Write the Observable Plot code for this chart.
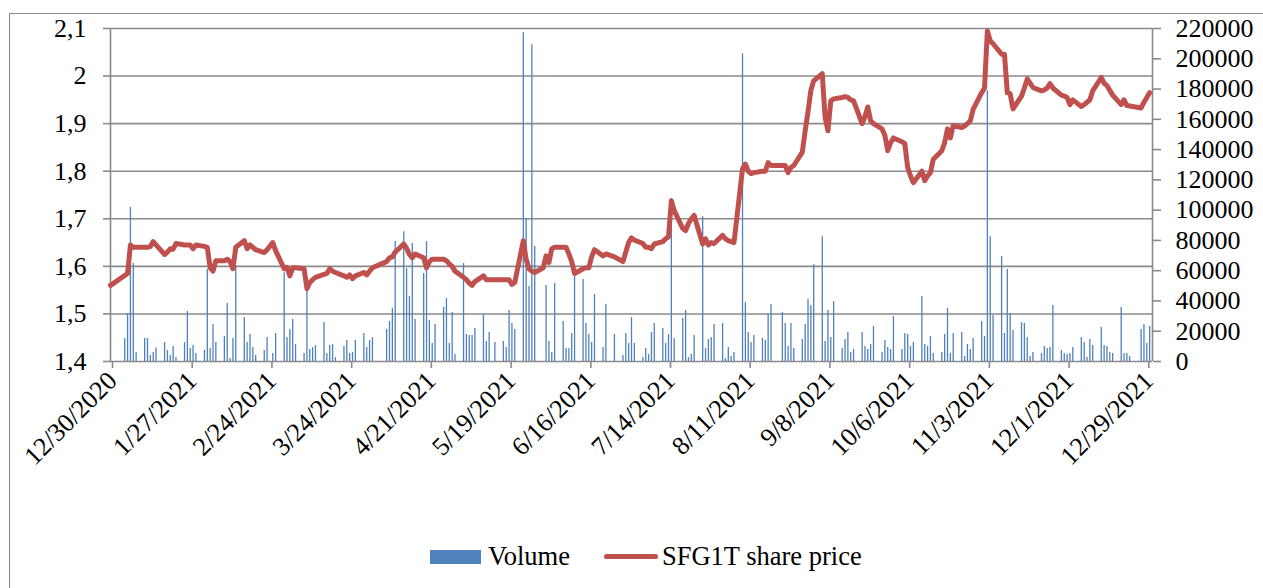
<!DOCTYPE html>
<html>
<head>
<meta charset="utf-8">
<script src="https://cdn.jsdelivr.net/npm/d3@7"></script>
<script src="https://cdn.jsdelivr.net/npm/@observablehq/plot@0.6"></script>
<style>
  html, body { margin: 0; padding: 0; background: #fff; }
  body { width: 1263px; height: 588px; overflow: hidden; position: relative; font-family: "Liberation Serif", "Times New Roman", serif; }
  #frame { position: absolute; left: 9px; top: 13px; width: 1400px; height: 700px; border-left: 1.5px solid #8a8a8a; border-top: 1.5px solid #8a8a8a; }
  #chart { position: absolute; left: 0; top: 0; }
  #legend { position: absolute; left: 430px; top: 541px; display: flex; align-items: center; font-size: 26.5px; color: #000; white-space: nowrap; }
  .sw-bar { width: 51px; height: 14px; background: #4F81BD; margin-right: 7px; }
  .sw-line { width: 54px; height: 5px; border-radius: 3px; background: #C0504D; margin-left: 34px; margin-right: 4px; }
</style>
</head>
<body>
<div id="frame"></div>
<div id="chart"></div>
<div id="legend"><span class="sw-bar"></span><span>Volume</span><span class="sw-line"></span><span>SFG1T share price</span></div>
<script>
const priceDates = ["2020-12-30","2021-01-05","2021-01-06","2021-01-07","2021-01-08","2021-01-11","2021-01-12","2021-01-13","2021-01-14","2021-01-15","2021-01-18","2021-01-19","2021-01-20","2021-01-21","2021-01-22","2021-01-25","2021-01-26","2021-01-27","2021-01-28","2021-01-29","2021-02-01","2021-02-02","2021-02-03","2021-02-04","2021-02-05","2021-02-08","2021-02-09","2021-02-10","2021-02-11","2021-02-12","2021-02-15","2021-02-16","2021-02-17","2021-02-18","2021-02-19","2021-02-22","2021-02-23","2021-02-25","2021-02-26","2021-03-01","2021-03-02","2021-03-03","2021-03-04","2021-03-05","2021-03-08","2021-03-09","2021-03-10","2021-03-11","2021-03-12","2021-03-15","2021-03-16","2021-03-17","2021-03-18","2021-03-19","2021-03-22","2021-03-23","2021-03-24","2021-03-25","2021-03-26","2021-03-29","2021-03-30","2021-03-31","2021-04-01","2021-04-06","2021-04-07","2021-04-08","2021-04-09","2021-04-12","2021-04-13","2021-04-14","2021-04-15","2021-04-16","2021-04-19","2021-04-20","2021-04-21","2021-04-22","2021-04-23","2021-04-26","2021-04-27","2021-04-28","2021-04-29","2021-04-30","2021-05-03","2021-05-04","2021-05-05","2021-05-06","2021-05-07","2021-05-10","2021-05-11","2021-05-12","2021-05-14","2021-05-17","2021-05-18","2021-05-19","2021-05-20","2021-05-21","2021-05-24","2021-05-25","2021-05-26","2021-05-27","2021-05-28","2021-05-31","2021-06-01","2021-06-02","2021-06-03","2021-06-04","2021-06-07","2021-06-08","2021-06-09","2021-06-10","2021-06-11","2021-06-14","2021-06-15","2021-06-16","2021-06-17","2021-06-18","2021-06-21","2021-06-22","2021-06-25","2021-06-28","2021-06-29","2021-06-30","2021-07-01","2021-07-02","2021-07-05","2021-07-06","2021-07-07","2021-07-08","2021-07-09","2021-07-12","2021-07-13","2021-07-14","2021-07-15","2021-07-16","2021-07-19","2021-07-20","2021-07-21","2021-07-22","2021-07-23","2021-07-26","2021-07-27","2021-07-28","2021-07-29","2021-07-30","2021-08-02","2021-08-03","2021-08-04","2021-08-05","2021-08-06","2021-08-09","2021-08-10","2021-08-11","2021-08-12","2021-08-13","2021-08-16","2021-08-17","2021-08-18","2021-08-19","2021-08-23","2021-08-24","2021-08-25","2021-08-26","2021-08-27","2021-08-30","2021-08-31","2021-09-01","2021-09-02","2021-09-03","2021-09-06","2021-09-07","2021-09-08","2021-09-09","2021-09-10","2021-09-13","2021-09-14","2021-09-15","2021-09-16","2021-09-17","2021-09-20","2021-09-21","2021-09-22","2021-09-23","2021-09-24","2021-09-27","2021-09-28","2021-09-29","2021-09-30","2021-10-01","2021-10-04","2021-10-05","2021-10-06","2021-10-07","2021-10-08","2021-10-11","2021-10-12","2021-10-13","2021-10-14","2021-10-15","2021-10-18","2021-10-19","2021-10-20","2021-10-21","2021-10-22","2021-10-25","2021-10-26","2021-10-27","2021-10-28","2021-10-29","2021-11-01","2021-11-02","2021-11-03","2021-11-04","2021-11-05","2021-11-08","2021-11-09","2021-11-10","2021-11-11","2021-11-12","2021-11-15","2021-11-16","2021-11-17","2021-11-18","2021-11-19","2021-11-22","2021-11-23","2021-11-24","2021-11-25","2021-11-26","2021-11-29","2021-11-30","2021-12-01","2021-12-02","2021-12-03","2021-12-06","2021-12-07","2021-12-08","2021-12-09","2021-12-10","2021-12-13","2021-12-14","2021-12-15","2021-12-16","2021-12-17","2021-12-20","2021-12-21","2021-12-22","2021-12-23","2021-12-27","2021-12-28","2021-12-29","2021-12-30"];
const priceValues = [1.560,1.585,1.645,1.640,1.640,1.640,1.640,1.642,1.652,1.645,1.625,1.630,1.637,1.636,1.648,1.645,1.645,1.645,1.637,1.645,1.642,1.640,1.597,1.590,1.612,1.612,1.615,1.610,1.595,1.640,1.654,1.637,1.645,1.640,1.635,1.629,1.635,1.650,1.633,1.595,1.598,1.580,1.597,1.597,1.595,1.553,1.566,1.572,1.577,1.583,1.585,1.595,1.590,1.587,1.580,1.577,1.582,1.574,1.580,1.587,1.582,1.590,1.597,1.610,1.618,1.620,1.630,1.647,1.638,1.625,1.618,1.626,1.618,1.597,1.610,1.615,1.615,1.615,1.612,1.605,1.600,1.590,1.577,1.572,1.565,1.560,1.568,1.580,1.572,1.572,1.572,1.572,1.572,1.572,1.562,1.566,1.654,1.615,1.595,1.590,1.587,1.597,1.622,1.608,1.637,1.640,1.640,1.640,1.626,1.610,1.585,1.595,1.597,1.597,1.620,1.635,1.622,1.626,1.620,1.610,1.630,1.650,1.660,1.655,1.648,1.640,1.640,1.637,1.647,1.652,1.658,1.662,1.738,1.717,1.680,1.675,1.690,1.700,1.707,1.647,1.658,1.645,1.650,1.648,1.665,1.658,1.654,1.652,1.650,1.805,1.815,1.800,1.795,1.797,1.800,1.800,1.818,1.812,1.812,1.812,1.797,1.808,1.812,1.840,1.885,1.925,1.970,1.990,2.005,1.913,1.885,1.948,1.952,1.955,1.957,1.955,1.950,1.948,1.900,1.915,1.935,1.906,1.900,1.889,1.875,1.843,1.860,1.870,1.862,1.858,1.808,1.790,1.776,1.800,1.780,1.790,1.797,1.825,1.843,1.860,1.889,1.870,1.896,1.892,1.895,1.900,1.906,1.930,1.965,1.975,2.095,2.074,2.068,2.046,2.046,1.965,1.963,1.931,1.958,1.975,1.994,1.985,1.976,1.969,1.971,1.975,1.984,1.975,1.960,1.958,1.955,1.940,1.950,1.936,1.940,1.945,1.950,1.969,1.997,1.985,1.980,1.970,1.960,1.940,1.950,1.938,1.937,1.933,1.945,1.955,1.965];

const volumeDates = ["2021-01-04","2021-01-05","2021-01-06","2021-01-07","2021-01-08","2021-01-11","2021-01-12","2021-01-13","2021-01-14","2021-01-15","2021-01-18","2021-01-19","2021-01-20","2021-01-21","2021-01-22","2021-01-25","2021-01-26","2021-01-27","2021-01-28","2021-01-29","2021-02-01","2021-02-02","2021-02-03","2021-02-04","2021-02-05","2021-02-08","2021-02-09","2021-02-10","2021-02-11","2021-02-12","2021-02-15","2021-02-16","2021-02-17","2021-02-18","2021-02-19","2021-02-22","2021-02-23","2021-02-25","2021-02-26","2021-03-01","2021-03-02","2021-03-03","2021-03-04","2021-03-05","2021-03-08","2021-03-09","2021-03-10","2021-03-11","2021-03-12","2021-03-15","2021-03-16","2021-03-17","2021-03-18","2021-03-19","2021-03-22","2021-03-23","2021-03-24","2021-03-25","2021-03-26","2021-03-29","2021-03-30","2021-03-31","2021-04-01","2021-04-06","2021-04-07","2021-04-08","2021-04-09","2021-04-12","2021-04-13","2021-04-14","2021-04-15","2021-04-16","2021-04-19","2021-04-20","2021-04-21","2021-04-22","2021-04-23","2021-04-26","2021-04-27","2021-04-28","2021-04-29","2021-04-30","2021-05-03","2021-05-04","2021-05-05","2021-05-06","2021-05-07","2021-05-10","2021-05-11","2021-05-12","2021-05-14","2021-05-17","2021-05-18","2021-05-19","2021-05-20","2021-05-21","2021-05-24","2021-05-25","2021-05-26","2021-05-27","2021-05-28","2021-06-01","2021-06-02","2021-06-03","2021-06-04","2021-06-07","2021-06-08","2021-06-09","2021-06-10","2021-06-11","2021-06-14","2021-06-15","2021-06-16","2021-06-17","2021-06-18","2021-06-21","2021-06-22","2021-06-25","2021-06-28","2021-06-29","2021-06-30","2021-07-01","2021-07-02","2021-07-05","2021-07-06","2021-07-07","2021-07-08","2021-07-09","2021-07-12","2021-07-13","2021-07-14","2021-07-15","2021-07-16","2021-07-19","2021-07-20","2021-07-21","2021-07-22","2021-07-23","2021-07-26","2021-07-27","2021-07-28","2021-07-29","2021-07-30","2021-08-02","2021-08-03","2021-08-04","2021-08-05","2021-08-06","2021-08-09","2021-08-10","2021-08-11","2021-08-12","2021-08-13","2021-08-16","2021-08-17","2021-08-18","2021-08-19","2021-08-23","2021-08-24","2021-08-25","2021-08-26","2021-08-27","2021-08-30","2021-08-31","2021-09-01","2021-09-02","2021-09-03","2021-09-06","2021-09-07","2021-09-08","2021-09-09","2021-09-10","2021-09-13","2021-09-14","2021-09-15","2021-09-16","2021-09-17","2021-09-20","2021-09-21","2021-09-22","2021-09-23","2021-09-24","2021-09-27","2021-09-28","2021-09-29","2021-09-30","2021-10-01","2021-10-04","2021-10-05","2021-10-06","2021-10-07","2021-10-08","2021-10-11","2021-10-12","2021-10-13","2021-10-14","2021-10-15","2021-10-18","2021-10-19","2021-10-20","2021-10-21","2021-10-22","2021-10-25","2021-10-26","2021-10-27","2021-10-28","2021-10-29","2021-11-01","2021-11-02","2021-11-03","2021-11-04","2021-11-05","2021-11-08","2021-11-09","2021-11-10","2021-11-11","2021-11-12","2021-11-15","2021-11-16","2021-11-17","2021-11-18","2021-11-19","2021-11-22","2021-11-23","2021-11-24","2021-11-25","2021-11-26","2021-11-29","2021-11-30","2021-12-01","2021-12-02","2021-12-03","2021-12-06","2021-12-07","2021-12-08","2021-12-09","2021-12-10","2021-12-13","2021-12-14","2021-12-15","2021-12-16","2021-12-17","2021-12-20","2021-12-21","2021-12-22","2021-12-23","2021-12-27","2021-12-28","2021-12-29","2021-12-30"];
const volumeValues = [15200,31700,101700,64700,6000,15200,15200,4000,6000,9000,12500,7300,4000,9900,2600,12500,33000,8600,10500,5300,7300,60700,8600,24400,12500,16500,38300,2000,15200,63400,29000,12500,17800,9200,4000,7300,15800,5300,18500,58700,15800,21100,27700,11200,5300,48800,7900,9200,10500,25700,5300,10500,11200,2600,9900,13900,5300,6000,13900,18500,9200,13900,15800,21100,26400,35000,79200,85800,61400,42900,77900,27700,58100,79200,27100,11900,24400,35700,41600,11900,32300,4600,64700,17800,17200,17200,21800,30400,13200,19100,12500,13200,9200,33700,25100,21100,217200,94400,49500,209200,75900,50200,13200,6000,51500,26400,8600,8600,18500,56100,54100,25100,17800,12500,44200,9200,37600,17800,4000,18500,11900,29000,11900,2600,8600,4600,19100,25100,21800,11900,17800,107600,15200,28400,33700,2600,4600,17200,95700,8600,14500,15800,24400,25100,2000,9200,3300,6000,203300,38900,19100,12500,17200,15200,13900,31000,37600,32300,25100,9900,25100,8600,14500,24400,40900,37000,64000,82500,13200,33700,15800,39600,8600,14500,19100,6000,7900,19100,9900,7900,11200,23100,6000,13900,9200,7900,29700,7900,18500,17800,9900,12500,42900,11200,9900,16500,5300,6000,17800,35000,5300,18500,19100,3300,11200,7900,15200,26400,16500,178900,82500,30400,69300,18500,60700,31700,20500,25700,25100,15800,3300,6000,5300,9900,8600,9200,37000,7300,5300,4600,5300,9200,15800,12500,2600,14500,10500,22400,10500,9900,6000,5300,35700,5300,5300,3300,21100,24400,11900,23100];

const priceTicks = [1.4, 1.5, 1.6, 1.7, 1.8, 1.9, 2.0, 2.1];
const volumeTicks = [0, 20000, 40000, 60000, 80000, 100000, 120000, 140000, 160000, 180000, 200000, 220000];
const dateTicks = ["2020-12-30","2021-01-27","2021-02-24","2021-03-24","2021-04-21","2021-05-19","2021-06-16","2021-07-14","2021-08-11","2021-09-08","2021-10-06","2021-11-03","2021-12-01","2021-12-29"];

const parse = s => new Date(s + "T00:00:00Z");
const prices = priceDates.map((d, i) => ({date: parse(d), price: priceValues[i]}));
const volumes = volumeDates.map((d, i) => ({date: parse(d), volume: volumeValues[i]}));

const yLo = 1.4, yHi = 2.1, vMax = 220000;
const volToY = v => yLo + v / vMax * (yHi - yLo);
const x0 = parse("2020-12-30"), x1 = parse("2021-12-31");
const grid = "#8a8a8a";
const fmtDate = d3.utcFormat("%-m/%-d/%Y");

const chart = Plot.plot({
  width: 1263,
  height: 520,
  marginLeft: 110,
  marginRight: 111,
  marginTop: 28,
  marginBottom: 159,
  style: {fontFamily: "'Liberation Serif', 'Times New Roman', serif", fontSize: "26px", color: "#000", background: "transparent", overflow: "visible"},
  x: {type: "utc", domain: [x0, x1]},
  y: {domain: [yLo, yHi]},
  marks: [
    Plot.ruleY(priceTicks, {stroke: grid, strokeWidth: 1.6}),
    Plot.ruleX([x0, x1], {y1: yLo, y2: yHi, stroke: grid, strokeWidth: 1.6}),
    Plot.ruleX(volumes, {x: "date", y1: yLo, y2: d => volToY(d.volume), stroke: "#4F81BD", strokeWidth: 1.3}),
    Plot.line(prices, {x: "date", y: "price", stroke: "#C0504D", strokeWidth: 5, strokeLinejoin: "round", strokeLinecap: "round"}),
    Plot.axisY(priceTicks, {anchor: "left", tickSize: 7, tickPadding: 17, stroke: grid, strokeWidth: 1.6, fill: "#000",
      tickFormat: d => String(Math.round(d * 10) / 10).replace(".", ","), label: null}),
    Plot.axisY(volumeTicks.map(volToY), {anchor: "right", tickSize: 8, tickPadding: 15, stroke: grid, strokeWidth: 1.6, fill: "#000",
      tickFormat: d => String(Math.round((d - yLo) / (yHi - yLo) * vMax / 1000) * 1000), label: null}),
    Plot.axisX(dateTicks.map(parse), {anchor: "bottom", tickSize: 7, tickPadding: 8, dx: 2, tickRotate: -45, stroke: grid, strokeWidth: 1.6, fill: "#000",
      tickFormat: fmtDate, label: null})
  ]
});
document.getElementById("chart").appendChild(chart);
</script>
</body>
</html>
